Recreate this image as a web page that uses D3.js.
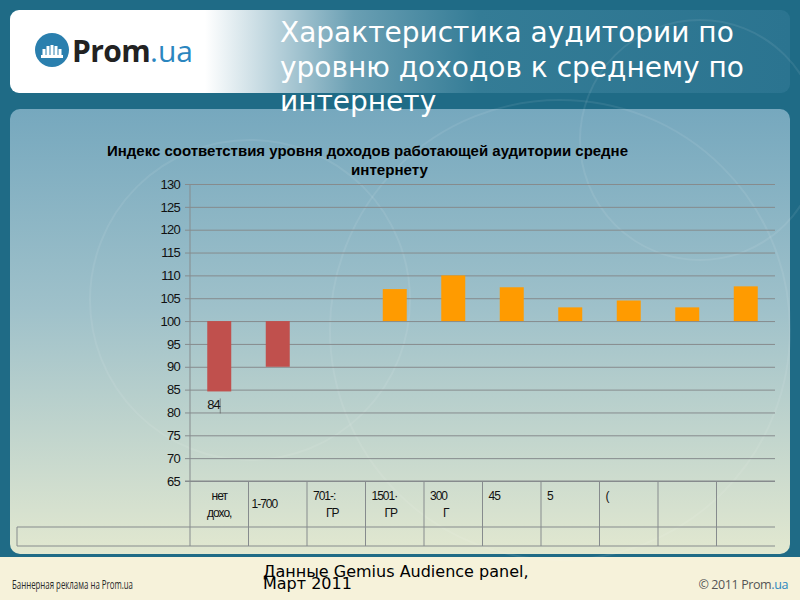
<!DOCTYPE html>
<html>
<head>
<meta charset="utf-8">
<script src="https://cdn.jsdelivr.net/npm/d3@7"></script>
<style>
  body { margin: 0; }
  svg { display: block; }
</style>
</head>
<body>
<div id="chart"></div>
<script>
// данные графика
const categories = ["c1", "c2", "c3", "c4", "c5", "c6", "c7", "c8", "c9", "c10"];
const values = [84.6, 90, 100, 107, 110, 107.4, 103, 104.5, 103, 107.6];
const catLabels = [["нет", "дохо,"], ["1-700"], ["701-:", "ГР"], ["1501·", "ГР"], ["300", "Г"], ["45"], ["5"], ["("], [], []];
const yTicks = [65, 70, 75, 80, 85, 90, 95, 100, 105, 110, 115, 120, 125, 130];
const baseline = 100;
const firstLabel = "84";

const width = 800, height = 600;
const svg = d3.select("#chart").append("svg")
    .attr("width", width)
    .attr("height", height);

const defs = svg.append("defs");
const hg = defs.append("linearGradient").attr("id", "hdr").attr("x1", 0).attr("x2", 1).attr("y1", 0).attr("y2", 0);
hg.append("stop").attr("offset", "0%").attr("stop-color", "#ffffff");
hg.append("stop").attr("offset", "25%").attr("stop-color", "#ffffff");
hg.append("stop").attr("offset", "44%").attr("stop-color", "#6a9fb3");
hg.append("stop").attr("offset", "60%").attr("stop-color", "#347c96");
hg.append("stop").attr("offset", "100%").attr("stop-color", "#2b7490");

const pg = defs.append("linearGradient").attr("id", "pnl").attr("x1", 0).attr("x2", 0).attr("y1", 0).attr("y2", 1);
pg.append("stop").attr("offset", "0%").attr("stop-color", "#76a8be");
pg.append("stop").attr("offset", "45%").attr("stop-color", "#9fc1ca");
pg.append("stop").attr("offset", "100%").attr("stop-color", "#e2e8d0");

// фон слайда
svg.append("rect").attr("width", width).attr("height", height).attr("fill", "#1f6b86");
svg.append("rect").attr("x", 0).attr("y", 557).attr("width", width).attr("height", 43).attr("fill", "#f6f2da");
svg.append("rect").attr("x", 10).attr("y", 10).attr("width", 780).attr("height", 83).attr("rx", 9).attr("fill", "url(#hdr)");
svg.append("rect").attr("x", 10).attr("y", 109).attr("width", 780).attr("height", 445).attr("rx", 10).attr("fill", "url(#pnl)");

// декоративные круги
[[250, 300, 160], [560, 330, 230], [700, 140, 120]].forEach(c => {
    svg.append("circle").attr("cx", c[0]).attr("cy", c[1]).attr("r", c[2])
        .attr("fill", "none").attr("stroke", "#ffffff").attr("stroke-opacity", 0.08).attr("stroke-width", 2);
});

// логотип
svg.append("circle").attr("cx", 52).attr("cy", 50).attr("r", 17).attr("fill", "#2a7fae");
[[44, 6], [48, 9], [52, 10], [56, 9], [60, 6]].forEach(b => {
    svg.append("rect").attr("x", b[0] - 1.5).attr("y", 55 - b[1]).attr("width", 3).attr("height", b[1]).attr("fill", "#fff");
});
svg.append("rect").attr("x", 41).attr("y", 55).attr("width", 22).attr("height", 3).attr("fill", "#fff");
const logo = svg.append("text").attr("x", 72).attr("y", 62)
    .attr("font-family", "'Open Sans', 'DejaVu Sans', sans-serif").attr("font-size", 30);
logo.append("tspan").attr("font-weight", "bold").attr("fill", "#222").attr("letter-spacing", -0.6).text("Prom");
logo.append("tspan").attr("fill", "#2b86bf").text(".ua");

// заголовок слайда
["Характеристика аудитории по", "уровню доходов к среднему по", "интернету"].forEach((t, i) => {
    svg.append("text").attr("x", 280).attr("y", 42 + i * 34.5)
        .attr("font-family", "'DejaVu Sans', sans-serif").attr("font-size", 28)
        .attr("fill", "#ffffff").text(t);
});

// заголовок графика
svg.append("text").attr("x", 107).attr("y", 156)
    .attr("font-family", "'Liberation Sans', Arial, sans-serif").attr("font-size", 14).attr("font-weight", "bold")
    .attr("textLength", 521).attr("lengthAdjust", "spacingAndGlyphs")
    .text("Индекс соответствия уровня доходов работающей аудитории средне");
svg.append("text").attr("x", 351).attr("y", 175)
    .attr("font-family", "'Liberation Sans', Arial, sans-serif").attr("font-size", 14).attr("font-weight", "bold")
    .attr("textLength", 77).attr("lengthAdjust", "spacingAndGlyphs")
    .text("интернету");

// шкалы
const x = d3.scaleBand().domain(categories).range([190, 775]).padding(0);
const y = d3.scaleLinear().domain([65, 130]).range([481, 184]);
const barW = x.bandwidth() * 0.41;

const gridColor = "#868b8d";
const yAxis = svg.append("g")
    .attr("transform", "translate(185,0)")
    .call(d3.axisLeft(y).tickValues(yTicks).tickSize(-590).tickPadding(5));
yAxis.select(".domain").remove();
yAxis.selectAll(".tick line").attr("stroke", gridColor).attr("stroke-width", 1);
yAxis.selectAll(".tick text")
    .attr("font-family", "'Liberation Sans', Arial, sans-serif").attr("font-size", 13)
    .attr("letter-spacing", -0.7).attr("fill", "#111");

svg.append("line").attr("x1", 190).attr("x2", 190).attr("y1", y(130)).attr("y2", y(65))
    .attr("stroke", gridColor);

// столбцы
svg.selectAll(".bar")
    .data(categories.map((c, i) => ({ c, v: values[i] })))
    .enter()
    .append("rect")
    .attr("class", "bar")
    .attr("x", d => x(d.c) + (x.bandwidth() - barW) / 2)
    .attr("y", d => y(Math.max(d.v, baseline)))
    .attr("width", barW)
    .attr("height", d => Math.abs(y(d.v) - y(baseline)))
    .attr("fill", d => d.v < baseline ? "#c0504d" : "#ff9b00");

// подпись первого столбца
svg.append("text")
    .attr("x", x(categories[0]) + (x.bandwidth() - barW) / 2)
    .attr("y", y(values[0]) + 18)
    .attr("font-family", "'Liberation Sans', Arial, sans-serif").attr("font-size", 13)
    .attr("letter-spacing", -1).attr("fill", "#111")
    .text(firstLabel);
svg.append("line")
    .attr("x1", x(categories[0]) + (x.bandwidth() - barW) / 2 + 13)
    .attr("x2", x(categories[0]) + (x.bandwidth() - barW) / 2 + 13)
    .attr("y1", y(values[0]) + 7).attr("y2", y(values[0]) + 22)
    .attr("stroke", "#555").attr("stroke-width", 0.6);

// таблица данных
const tbl = svg.append("g").attr("stroke", gridColor).attr("stroke-width", 1);
tbl.append("line").attr("x1", 185).attr("x2", 775).attr("y1", 481).attr("y2", 481);
tbl.append("line").attr("x1", 17).attr("x2", 775).attr("y1", 527).attr("y2", 527);
tbl.append("line").attr("x1", 17).attr("x2", 775).attr("y1", 546).attr("y2", 546);
tbl.append("line").attr("x1", 17).attr("x2", 17).attr("y1", 527).attr("y2", 546);
categories.forEach(c => {
    tbl.append("line").attr("x1", x(c)).attr("x2", x(c)).attr("y1", 481).attr("y2", 546);
});

categories.forEach((c, i) => {
    const lines = catLabels[i];
    lines.forEach((t, j) => {
        let tx, ty, anchor = "start";
        if (i === 0) {
            tx = x(c) + x.bandwidth() / 2; anchor = "middle"; ty = 500 + j * 17;
        } else if (lines.length === 1 && i === 1) {
            tx = x(c) + 3; ty = 508;
        } else {
            tx = x(c) + (j === 0 ? 6 : 19); ty = 500 + j * 17;
        }
        svg.append("text").attr("x", tx).attr("y", ty).attr("text-anchor", anchor)
            .attr("font-family", "'Liberation Sans', Arial, sans-serif").attr("font-size", 12)
            .attr("letter-spacing", -1).attr("fill", "#111")
            .text(t);
    });
});

// подвал
svg.append("text").attr("x", 263).attr("y", 577)
    .attr("font-family", "'DejaVu Sans', sans-serif").attr("font-size", 16).attr("fill", "#000")
    .text("Данные Gemius Audience panel,");
svg.append("text").attr("x", 263).attr("y", 589)
    .attr("font-family", "'DejaVu Sans', sans-serif").attr("font-size", 16).attr("fill", "#000")
    .text("Март 2011");
svg.append("text").attr("x", 12).attr("y", 589)
    .attr("font-family", "'Open Sans', 'Liberation Sans', sans-serif").attr("font-size", 12.5)
    .attr("textLength", 121).attr("lengthAdjust", "spacingAndGlyphs").attr("fill", "#2a2a2a")
    .text("Баннерная реклама на Prom.ua");
const copy = svg.append("text").attr("x", 788).attr("y", 589).attr("text-anchor", "end")
    .attr("font-family", "'Open Sans', 'Liberation Sans', sans-serif").attr("font-size", 12.5)
    .attr("letter-spacing", -0.4);
copy.append("tspan").attr("fill", "#555").text("© 2011 Prom");
copy.append("tspan").attr("fill", "#2b86bf").text(".ua");
</script>
</body>
</html>
